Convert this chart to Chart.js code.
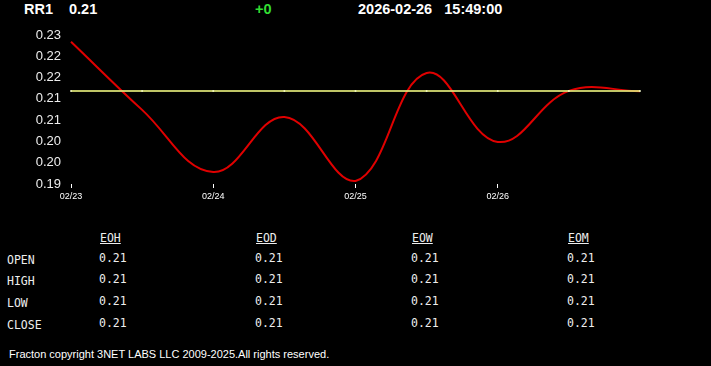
<!DOCTYPE html>
<html lang="en">
<head>
  <meta charset="UTF-8" />
  <title>RR1</title>
  <script src="https://cdn.jsdelivr.net/npm/chart.js"></script>
  <style>
    body {
      margin: 0;
      background: #000;
      width: 711px;
      height: 366px;
      overflow: hidden;
      position: relative;
      font-family: Arial, "Liberation Sans", sans-serif;
      color: #fff;
    }
    #chartBox {
      position: absolute;
      left: 0;
      top: 0;
    }
    .hdr {
      position: absolute;
      top: 1px;
      font-weight: bold;
      font-size: 14.5px;
      line-height: 16px;
      white-space: pre;
    }
    .tbl {
      position: absolute;
      font-family: "DejaVu Sans Mono", monospace;
      font-size: 11.5px;
      line-height: 14px;
      color: #eee;
    }
    .tbl span {
      position: absolute;
      white-space: pre;
    }
    .tbl .th {
      text-decoration: underline;
    }
    #footer {
      position: absolute;
      left: 9px;
      top: 347px;
      font-size: 11px;
      line-height: 14px;
    }
  </style>
</head>
<body>
  <div class="hdr" style="left:24px">RR1</div>
  <div class="hdr" style="left:69px">0.21</div>
  <div class="hdr" style="left:255px;color:#33dd33">+0</div>
  <div class="hdr" style="left:358px">2026-02-26   15:49:00</div>

  <canvas id="chartBox" width="711" height="215"></canvas>

  <div class="tbl" id="tbl"></div>
  <div id="footer">Fracton copyright 3NET LABS LLC 2009-2025.All rights reserved.</div>

  <script>
    // half-day samples, last one is "now"
    const times = ['02/23', '02/23 12:00', '02/24', '02/24 12:00', '02/25',
                   '02/25 12:00', '02/26', '02/26 12:00', '02/26 15:49'];
    const prices = [0.2282, 0.2099, 0.1932, 0.2080, 0.1908, 0.2198, 0.2013, 0.2150, 0.2149];
    const avgLine = [0.215, 0.215, 0.215, 0.215, 0.215, 0.215, 0.215, 0.215, 0.215];
    const yTicks = [0.19, 0.19571, 0.20143, 0.20714, 0.21286, 0.21857, 0.22429, 0.23];

    const columns = ['EOH', 'EOD', 'EOW', 'EOM'];
    const rows = ['OPEN', 'HIGH', 'LOW', 'CLOSE'];
    const rowValues = [
      [0.21, 0.21, 0.21, 0.21],
      [0.21, 0.21, 0.21, 0.21],
      [0.21, 0.21, 0.21, 0.21],
      [0.21, 0.21, 0.21, 0.21]
    ];

    const isDay = lbl => lbl.indexOf(' ') < 0;

    new Chart(document.getElementById('chartBox').getContext('2d'), {
      type: 'line',
      data: {
        labels: times,
        datasets: [
          {
            data: prices,
            borderColor: '#e00000',
            borderWidth: 2,
            tension: 0.4,
            pointRadius: 0,
            order: 2
          },
          {
            data: avgLine,
            borderColor: 'rgba(225,232,120,0.85)',
            borderWidth: 2,
            pointRadius: 1,
            pointBorderWidth: 0,
            pointBackgroundColor: 'rgba(245,250,200,0.9)',
            order: 1
          }
        ]
      },
      options: {
        responsive: false,
        animation: false,
        layout: { padding: { top: 35, right: 71, left: 0, bottom: 0 } },
        plugins: { legend: { display: false }, tooltip: { enabled: false } },
        scales: {
          x: {
            afterFit: s => { s.height = 31; },
            border: { display: false },
            grid: {
              drawOnChartArea: false,
              tickLength: 4,
              tickWidth: 1,
              tickColor: c => (isDay(times[c.index]) ? '#fff' : 'transparent')
            },
            ticks: {
              color: '#fff',
              font: { family: 'Arial', size: 9 },
              padding: 3,
              maxRotation: 0,
              autoSkip: false,
              callback: (v, i) => (isDay(times[i]) ? times[i] : '')
            }
          },
          y: {
            min: 0.19,
            max: 0.23,
            afterFit: s => { s.width = 71; },
            afterBuildTicks: s => { s.ticks = yTicks.map(v => ({ value: v })); },
            border: { display: false },
            grid: { display: false, drawTicks: false },
            ticks: {
              color: '#eee',
              font: { family: 'Arial', size: 13 },
              padding: 10,
              callback: v => v.toFixed(2)
            }
          }
        }
      }
    });

    // summary table
    const tbl = document.getElementById('tbl');
    const colX = [100, 256, 412, 568];
    const rowY = [253, 274, 296, 318];
    columns.forEach((c, i) => {
      const s = document.createElement('span');
      s.className = 'th';
      s.textContent = c;
      s.style.left = colX[i] + 'px';
      s.style.top = '231px';
      tbl.appendChild(s);
    });
    rows.forEach((r, j) => {
      const s = document.createElement('span');
      s.textContent = r;
      s.style.left = '7px';
      s.style.top = rowY[j] + 'px';
      tbl.appendChild(s);
      rowValues[j].forEach((v, i) => {
        const t = document.createElement('span');
        t.textContent = v.toFixed(2);
        t.style.left = (colX[i] - 1) + 'px';
        t.style.top = (rowY[j] - 2) + 'px';
        tbl.appendChild(t);
      });
    });
  </script>
</body>
</html>
